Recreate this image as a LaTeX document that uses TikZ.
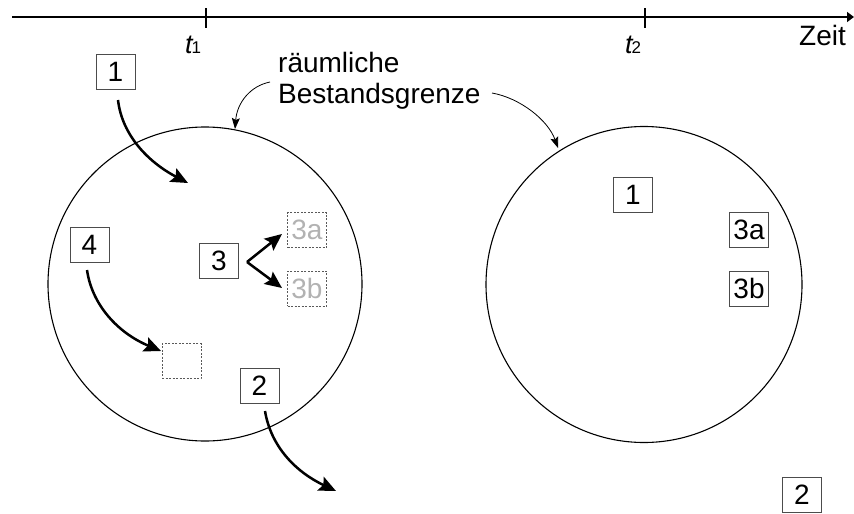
\documentclass[tikz,border=0pt]{standalone}
\usepackage{fontspec}
\setmainfont{Liberation Sans}
\usetikzlibrary{arrows.meta}
\begin{document}
\begin{tikzpicture}[x=1pt,y=-1pt,
  numbox/.style={draw=black!70, line width=0.9pt, minimum width=39pt, minimum height=35pt, inner sep=0pt, font=\fontsize{28}{28}\selectfont},
  ghostbox/.style={draw=black!65, line width=0.8pt, dash pattern=on 2pt off 1.5pt, minimum width=39pt, minimum height=35pt, inner sep=0pt, text=black!30, font=\fontsize{28}{28}\selectfont},
  bigarrow/.style={line width=2.5pt, -{Stealth[length=17pt,width=15pt,inset=3pt]}},
  thinarrow/.style={line width=0.8pt, -{Stealth[length=11pt,width=8pt,inset=2pt]}},
  boundary/.style={line width=1.1pt},
  lbl/.style={inner sep=0pt, font=\fontsize{28}{31}\selectfont},
  tlbl/.style={inner sep=0pt, anchor=base west, font=\fontsize{27}{27}\selectfont}
]
\useasboundingbox (0,0) rectangle (854,514);
% time axis
\coordinate (axs) at (12,17);
\coordinate (axe) at (854,17);
\draw[line width=2.8pt, -{Triangle[length=7pt,width=10pt]}] (axs) -- (axe);
\coordinate (tk1a) at (206,8); \coordinate (tk1b) at (206,28);
\coordinate (tk2a) at (645,8); \coordinate (tk2b) at (645,28);
\draw[line width=2.4pt] (tk1a) -- (tk1b);
\draw[line width=2.4pt] (tk2a) -- (tk2b);
\node[tlbl] (t1) at (185,53) {\itshape t\kern-1pt{\upshape\fontsize{17}{17}\selectfont 1}};
\node[tlbl] (t2) at (625,53) {\itshape t\kern-1pt{\upshape\fontsize{17}{17}\selectfont 2}};
\node[lbl, anchor=base west] (zeit) at (799,45) {Zeit};
% circles
\node[boundary, draw, circle, minimum size=314pt, inner sep=0pt] (c1) at (205,284) {};
\node[boundary, draw, circle, minimum size=316pt, inner sep=0pt] (c2) at (644,284.5) {};
% label
\node[lbl, anchor=base west] (lblA) at (278,72) {räumliche};
\node[lbl, anchor=base west] (lblB) at (278,103) {Bestandsgrenze};
\coordinate (la1) at (270,82);
\coordinate (la2) at (235,129);
\coordinate (lb1) at (492,93);
\coordinate (lb2) at (558,148);
\draw[thinarrow] (la1) .. controls (250,86) and (237,103) .. (la2);
\draw[thinarrow] (lb1) .. controls (520,98) and (548,120) .. (lb2);
% left circle boxes
\node[numbox] (L1) at (115.5,72) {1};
\node[numbox] (L4) at (89.5,245) {4};
\node[numbox] (L3) at (219,261) {3};
\node[ghostbox] (L3a) at (307,230) {3a};
\node[ghostbox] (L3b) at (307,288.5) {3b};
\node[ghostbox] (Lempty) at (181.5,361) {};
\node[numbox] (L2) at (259.5,385.5) {2};
% right circle boxes
\node[numbox] (R1) at (633,194.5) {1};
\node[numbox] (R3a) at (749,229.5) {3a};
\node[numbox] (R3b) at (749,288.5) {3b};
\node[numbox] (R2) at (802,495) {2};
% arrows
\coordinate (a1s) at (118,100); \coordinate (a1e) at (188,183);
\draw[bigarrow] (a1s) .. controls (122,135) and (148,162) .. (a1e);
\coordinate (a4s) at (87,270); \coordinate (a4e) at (161,351);
\draw[bigarrow] (a4s) .. controls (92,305) and (118,333) .. (a4e);
\coordinate (a2s) at (265,411); \coordinate (a2e) at (336,491);
\draw[bigarrow] (a2s) .. controls (271,447) and (296,472) .. (a2e);
\coordinate (fork) at (247,262);
\coordinate (fa) at (282,234);
\coordinate (fb) at (282,288);
\draw[bigarrow, line join=miter] (fork) -- (fa);
\draw[bigarrow, line join=miter] (fork) -- (fb);
\end{tikzpicture}
\end{document}
